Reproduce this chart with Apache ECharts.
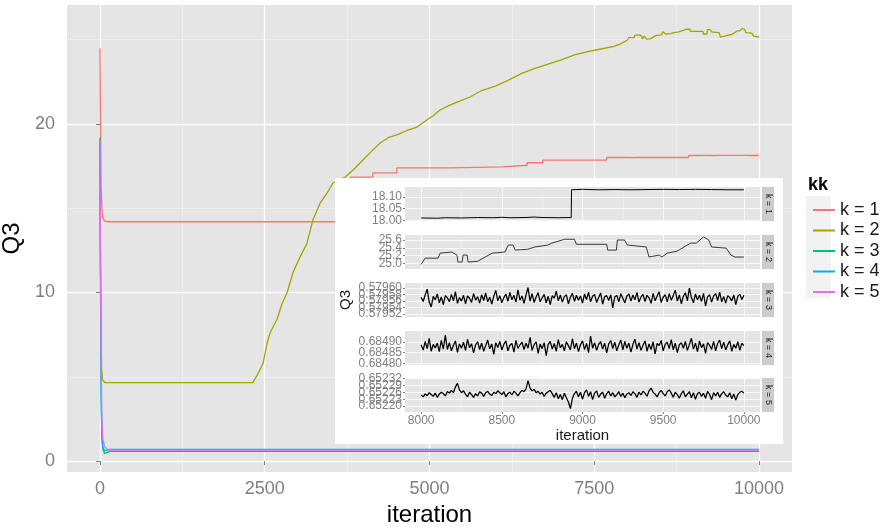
<!DOCTYPE html>
<html><head><meta charset="utf-8">
<script src="https://cdn.jsdelivr.net/npm/echarts@6/dist/echarts.min.js"></script>
<style>html,body{margin:0;padding:0;background:#fff}#c{width:882px;height:527px}</style>
</head><body><div id="c"></div>
<script>
// ---------------- data ----------------
const seriesNames = ['k = 1', 'k = 2', 'k = 3', 'k = 4', 'k = 5'];

const mainIterK1 = [0, 5, 10, 15, 20, 30, 45, 70, 120, 3800, 3800, 4140, 4140, 4505, 4505, 5310, 5310, 6115, 6115, 6480, 6480, 6720, 6720, 7690, 7690];
const mainQ3K1   = [24.5, 22.0, 19.5, 17.5, 16.0, 14.9, 14.4, 14.25, 14.2, 14.2, 16.85, 16.85, 17.1, 17.1, 17.4, 17.4, 17.45, 17.45, 17.55, 17.55, 17.7, 17.7, 17.85, 17.85, 18.01];

const mainIterK2 = [0, 8, 16, 25, 40, 80, 2320, 2400, 2475, 2530, 2580, 2685, 2760, 2840, 2930, 3035, 3140, 3230, 3340, 3445, 3535, 3720, 3850, 3990, 4100, 4250, 4380, 4505, 4650, 4810, 4960, 5060, 5160, 5300, 5420, 5615, 5800, 6000, 6200, 6400, 6600, 6800, 7000, 7200, 7400, 7600, 7800, 7900];
const mainQ3K2   = [18.5, 12, 8, 5.5, 4.8, 4.65, 4.65, 5.2, 5.8, 6.9, 7.6, 8.4, 9.3, 10.0, 11.2, 12.1, 12.9, 14.3, 15.3, 15.9, 16.5, 16.85, 17.3, 17.86, 18.3, 18.87, 19.2, 19.35, 19.6, 19.82, 20.24, 20.5, 20.83, 21.1, 21.3, 21.6, 22.0, 22.25, 22.6, 23.0, 23.3, 23.55, 23.8, 24.1, 24.3, 24.45, 24.6, 24.75];

const mainIterK345 = [0, 5, 10, 15, 20, 30, 45, 70, 100, 150, 7990];
const mainQ3K3 = [19.2, 14.0, 9.5, 6.0, 3.5, 1.4, 0.7, 0.45, 0.52, 0.5796, 0.579566];
const mainQ3K4 = [18.9, 13.5, 9.0, 5.5, 3.2, 1.3, 0.8, 0.62, 0.66, 0.6849, 0.684877];
const mainQ3K5 = [19.0, 15.0, 11.0, 7.5, 5.0, 2.4, 1.3, 0.85, 0.72, 0.6523, 0.652248];

const insetIterK1 = [8000, 8100, 8150, 8250, 8350, 8450, 8500, 8550, 8650, 8700, 8750, 8850, 8930, 8932, 9000, 9100, 9200, 9300, 9400, 9500, 9600, 9700, 9800, 9900, 10000];
const insetQ3K1   = [18.010, 18.009, 18.011, 18.010, 18.012, 18.011, 18.013, 18.011, 18.012, 18.014, 18.012, 18.011, 18.012, 18.131, 18.133, 18.131, 18.132, 18.131, 18.132, 18.133, 18.132, 18.133, 18.132, 18.131, 18.131];

const insetIterK2 = [8000, 8025, 8105, 8118, 8190, 8198, 8222, 8228, 8254, 8260, 8285, 8291, 8350, 8440, 8520, 8540, 8570, 8582, 8660, 8705, 8785, 8810, 8890, 8950, 8962, 9150, 9156, 9210, 9216, 9260, 9278, 9395, 9412, 9475, 9492, 9525, 9585, 9670, 9705, 9750, 9782, 9800, 9890, 9920, 9945, 10000];
const insetQ3K2   = [24.97, 25.13, 25.13, 25.26, 25.29, 25.34, 25.21, 25.03, 25.03, 25.21, 25.21, 25.03, 25.05, 25.26, 25.29, 25.47, 25.47, 25.34, 25.36, 25.42, 25.47, 25.52, 25.62, 25.62, 25.49, 25.49, 25.34, 25.34, 25.60, 25.60, 25.47, 25.42, 25.16, 25.21, 25.16, 25.26, 25.31, 25.52, 25.52, 25.68, 25.60, 25.42, 25.39, 25.21, 25.16, 25.16];

// thinned iterations 8000..10000 for the noisy traces
const thinIter = [];
for (let i = 0; i <= 160; i++) thinIter.push(8000 + i * 12.5);

const insetQ3K3 = [
0.579571,0.579558,0.579578,0.579596,0.579556,0.579541,0.579574,0.579563,0.579581,0.579554,
0.579572,0.579548,0.579576,0.579569,0.579557,0.579580,0.579560,0.579588,0.579552,0.579570,
0.579559,0.579577,0.579551,0.579575,0.579568,0.579555,0.579582,0.579562,0.579573,0.579553,
0.579579,0.579561,0.579584,0.579557,0.579571,0.579550,0.579574,0.579592,0.579560,0.579576,
0.579554,0.579570,0.579581,0.579558,0.579586,0.579563,0.579577,0.579556,0.579594,0.579562,
0.579575,0.579552,0.579578,0.579601,0.579559,0.579582,0.579555,0.579572,0.579585,0.579557,
0.579569,0.579580,0.579554,0.579574,0.579548,0.579576,0.579568,0.579590,0.579560,0.579578,
0.579556,0.579573,0.579579,0.579551,0.579571,0.579583,0.579558,0.579577,0.579562,0.579575,
0.579553,0.579581,0.579564,0.579587,0.579557,0.579574,0.579580,0.579555,0.579570,0.579584,
0.579550,0.579573,0.579576,0.579561,0.579579,0.579538,0.579572,0.579577,0.579557,0.579582,
0.579568,0.579554,0.579575,0.579581,0.579559,0.579578,0.579563,0.579586,0.579556,0.579572,
0.579580,0.579558,0.579577,0.579569,0.579552,0.579583,0.579560,0.579575,0.579588,0.579555,
0.579571,0.579579,0.579557,0.579582,0.579562,0.579576,0.579593,0.579559,0.579578,0.579551,
0.579574,0.579585,0.579560,0.579599,0.579570,0.579554,0.579581,0.579563,0.579577,0.579558,
0.579583,0.579544,0.579572,0.579579,0.579556,0.579575,0.579582,0.579561,0.579587,0.579557,
0.579573,0.579553,0.579576,0.579570,0.579560,0.579578,0.579548,0.579574,0.579580,0.579564,
0.579577];

const insetQ3K4 = [
0.684887,0.684862,0.684902,0.684869,0.684917,0.684857,0.684889,0.684872,0.684895,0.684855,
0.684907,0.684867,0.684932,0.684865,0.684897,0.684859,0.684885,0.684905,0.684852,0.684891,
0.684871,0.684899,0.684861,0.684912,0.684873,0.684892,0.684849,0.684887,0.684901,0.684865,
0.684895,0.684857,0.684883,0.684909,0.684868,0.684891,0.684842,0.684897,0.684874,0.684903,
0.684863,0.684889,0.684905,0.684859,0.684885,0.684893,0.684853,0.684907,0.684870,0.684887,
0.684899,0.684865,0.684895,0.684871,0.684922,0.684861,0.684887,0.684901,0.684847,0.684891,
0.684869,0.684897,0.684837,0.684889,0.684903,0.684867,0.684893,0.684857,0.684911,0.684873,
0.684889,0.684859,0.684901,0.684883,0.684863,0.684915,0.684869,0.684895,0.684855,0.684887,
0.684905,0.684865,0.684893,0.684851,0.684927,0.684871,0.684897,0.684861,0.684889,0.684901,
0.684867,0.684895,0.684849,0.684891,0.684907,0.684869,0.684899,0.684859,0.684887,0.684909,
0.684863,0.684903,0.684871,0.684895,0.684853,0.684889,0.684913,0.684867,0.684897,0.684861,
0.684885,0.684905,0.684857,0.684891,0.684865,0.684901,0.684845,0.684893,0.684883,0.684907,
0.684859,0.684889,0.684899,0.684869,0.684911,0.684863,0.684895,0.684851,0.684887,0.684897,
0.684871,0.684903,0.684861,0.684889,0.684917,0.684867,0.684895,0.684855,0.684905,0.684873,
0.684891,0.684847,0.684897,0.684885,0.684865,0.684903,0.684859,0.684893,0.684909,0.684869,
0.684899,0.684863,0.684887,0.684905,0.684857,0.684889,0.684871,0.684901,0.684861,0.684895,
0.684883];

const insetQ3K5 = [
0.652248,0.652240,0.652253,0.652245,0.652258,0.652250,0.652242,0.652256,0.652238,0.652252,
0.652260,0.652254,0.652244,0.652263,0.652256,0.652268,0.652258,0.652283,0.652298,0.652270,
0.652258,0.652266,0.652252,0.652240,0.652260,0.652250,0.652238,0.652254,0.652244,0.652262,
0.652256,0.652242,0.652258,0.652264,0.652252,0.652246,0.652260,0.652254,0.652266,0.652258,
0.652250,0.652262,0.652240,0.652254,0.652260,0.652248,0.652264,0.652256,0.652244,0.652258,
0.652268,0.652262,0.652274,0.652310,0.652278,0.652266,0.652272,0.652258,0.652264,0.652252,
0.652260,0.652242,0.652256,0.652262,0.652268,0.652254,0.652238,0.652258,0.652232,0.652250,
0.652228,0.652256,0.652236,0.652218,0.652190,0.652234,0.652254,0.652264,0.652240,0.652260,
0.652230,0.652258,0.652270,0.652242,0.652262,0.652228,0.652256,0.652266,0.652238,0.652252,
0.652260,0.652234,0.652254,0.652264,0.652244,0.652258,0.652240,0.652250,0.652262,0.652242,
0.652256,0.652236,0.652252,0.652258,0.652246,0.652262,0.652254,0.652238,0.652260,0.652248,
0.652264,0.652256,0.652242,0.652266,0.652278,0.652260,0.652252,0.652240,0.652258,0.652268,
0.652254,0.652244,0.652262,0.652270,0.652256,0.652238,0.652260,0.652250,0.652234,0.652254,
0.652266,0.652240,0.652252,0.652262,0.652236,0.652258,0.652230,0.652254,0.652260,0.652242,
0.652256,0.652234,0.652264,0.652250,0.652228,0.652258,0.652244,0.652260,0.652238,0.652254,
0.652262,0.652248,0.652240,0.652258,0.652232,0.652252,0.652226,0.652250,0.652260,0.652264,
0.652256];

// tick labels
const mainXTicks = [0, 2500, 5000, 7500, 10000];
const mainXMinor = [1250, 3750, 6250, 8750];
const mainYTicks = [0, 10, 20];
const mainYMinor = [5, 15, 25];
const insetXTicks = [8000, 8500, 9000, 9500, 10000];
const insetXMinor = [8250, 8750, 9250, 9750];
const insetYTicksK1 = [18.00, 18.05, 18.10];
const insetYTicksK2 = [25.0, 25.2, 25.4, 25.6];
const insetYTicksK3 = [0.57952, 0.57954, 0.57956, 0.57958, 0.57960];
const insetYTicksK4 = [0.68480, 0.68485, 0.68490];
const insetYTicksK5 = [0.65220, 0.65223, 0.65226, 0.65229, 0.65232];

// ---------------- layout / style ----------------
const FONT = '"Liberation Sans", Arial, sans-serif';
const GREY = '#7F7F7F';
const PANEL = '#E5E5E5';
const colors = ['#F8766D', '#A3A500', '#00BF7D', '#00B0F6', '#E76BF3'];

const insetTops = [187, 235, 283, 331, 378];
const insetH = 34, insetLeft = 405, insetW = 355;
const insetYMin = [17.997, 24.85, 0.579510, 0.684793, 0.652175];
const insetYMax = [18.143, 25.73, 0.579615, 0.684951, 0.652321];
const insetYTicks = [insetYTicksK1, insetYTicksK2, insetYTicksK3, insetYTicksK4, insetYTicksK5];
const insetYDec = [2, 1, 5, 5, 5];

function zip(xs, ys) { return xs.map((x, i) => [x, ys[i]]); }

const mainData = [
  zip(mainIterK1.concat(insetIterK1), mainQ3K1.concat(insetQ3K1)),
  zip(mainIterK2.concat(insetIterK2), mainQ3K2.concat(insetQ3K2)),
  zip(mainIterK345.concat(thinIter), mainQ3K3.concat(insetQ3K3)),
  zip(mainIterK345.concat(thinIter), mainQ3K4.concat(insetQ3K4)),
  zip(mainIterK345.concat(thinIter), mainQ3K5.concat(insetQ3K5))
];
const insetData = [
  zip(insetIterK1, insetQ3K1),
  zip(insetIterK2, insetQ3K2),
  zip(thinIter, insetQ3K3),
  zip(thinIter, insetQ3K4),
  zip(thinIter, insetQ3K5)
];

const plain = v => String(v);

const grids = [{ left: 67, top: 5, width: 725, height: 467, show: true, backgroundColor: PANEL, borderWidth: 0, z: 0, outerBoundsMode: 'none', containLabel: false }];
insetTops.forEach(t => grids.push({ left: insetLeft, top: t, width: insetW, height: insetH, show: true, backgroundColor: PANEL, borderWidth: 0, z: 11, outerBoundsMode: 'none', containLabel: false }));

const xAxes = [
  { type: 'value', gridIndex: 0, min: -500, max: 10500, z: 1,
    axisLine: { show: false },
    axisTick: { show: true, length: 4, lineStyle: { color: GREY }, customValues: mainXTicks },
    axisLabel: { customValues: mainXTicks, color: GREY, fontSize: 18, fontFamily: FONT, margin: 8, formatter: plain },
    splitLine: { show: true, lineStyle: { color: '#FFFFFF', width: 1.3 }, customValues: mainXTicks },
    name: 'iteration', nameLocation: 'middle', nameGap: 30,
    nameTextStyle: { fontSize: 24, color: '#000', fontFamily: FONT } },
  { type: 'value', gridIndex: 0, min: -500, max: 10500, z: 0,
    axisLine: { show: false }, axisTick: { show: false, customValues: mainXMinor }, axisLabel: { show: false },
    splitLine: { show: true, lineStyle: { color: '#F2F2F2', width: 0.7 }, customValues: mainXMinor } }
];
const yAxes = [
  { type: 'value', gridIndex: 0, min: -0.65, max: 27.06, z: 1,
    axisLine: { show: false },
    axisTick: { show: true, length: 4, lineStyle: { color: GREY }, customValues: mainYTicks },
    axisLabel: { customValues: mainYTicks, color: GREY, fontSize: 18, fontFamily: FONT, margin: 12, formatter: plain },
    splitLine: { show: true, lineStyle: { color: '#FFFFFF', width: 1.3 }, customValues: mainYTicks },
    name: 'Q3', nameLocation: 'middle', nameGap: 33, nameRotate: 90,
    nameTextStyle: { fontSize: 24, color: '#000', fontFamily: FONT } },
  { type: 'value', gridIndex: 0, min: -0.65, max: 27.06, z: 0, position: 'left',
    axisLine: { show: false }, axisTick: { show: false, customValues: mainYMinor }, axisLabel: { show: false },
    splitLine: { show: true, lineStyle: { color: '#F2F2F2', width: 0.7 }, customValues: mainYMinor } }
];

for (let i = 0; i < 5; i++) {
  const last = i === 4;
  xAxes[2 + i] = {
    type: 'value', gridIndex: 1 + i, min: 7900, max: 10100, z: 12,
    axisLine: { show: false },
    axisTick: { show: last, length: 2, lineStyle: { color: GREY }, customValues: insetXTicks },
    axisLabel: { show: last, customValues: insetXTicks, color: GREY, fontSize: 12, fontFamily: FONT, margin: 3,
                 formatter: plain, showMinLabel: true, showMaxLabel: true },
    splitLine: { show: true, lineStyle: { color: '#FFFFFF', width: 0.8 }, customValues: insetXTicks },
    name: last ? 'iteration' : '', nameLocation: 'middle', nameGap: 15,
    nameTextStyle: { fontSize: 15, color: '#1A1A1A', fontFamily: FONT }
  };
  xAxes[7 + i] = {
    type: 'value', gridIndex: 1 + i, min: 7900, max: 10100, z: 12,
    axisLine: { show: false }, axisTick: { show: false, customValues: insetXMinor }, axisLabel: { show: false },
    splitLine: { show: true, lineStyle: { color: '#F2F2F2', width: 0.5 }, customValues: insetXMinor }
  };
  const dec = insetYDec[i];
  const ticks = insetYTicks[i];
  const evenTicks = ticks.filter((v, j) => j % 2 === 0);
  const oddTicks = ticks.filter((v, j) => j % 2 === 1);
  const lab = (vals) => ({ customValues: vals, color: GREY, fontSize: 12, fontFamily: FONT, margin: 3,
                 showMinLabel: true, showMaxLabel: true, hideOverlap: false,
                 formatter: v => Number(v).toFixed(dec) });
  // labels are split across two stacked axes so that crowded labels all remain visible
  yAxes[2 + i] = {
    type: 'value', gridIndex: 1 + i, min: insetYMin[i], max: insetYMax[i], z: 12, position: 'left',
    axisLine: { show: false },
    axisTick: { show: true, length: 2, lineStyle: { color: GREY }, customValues: ticks },
    axisLabel: lab(evenTicks),
    splitLine: { show: true, lineStyle: { color: '#FFFFFF', width: 0.8 }, customValues: ticks },
    name: i === 2 ? 'Q3' : '', nameLocation: 'middle', nameGap: 52, nameRotate: 90,
    nameTextStyle: { fontSize: 15, color: '#1A1A1A', fontFamily: FONT }
  };
  yAxes[7 + i] = {
    type: 'value', gridIndex: 1 + i, min: insetYMin[i], max: insetYMax[i], z: 12, position: 'left', offset: 0,
    axisLine: { show: false },
    axisTick: { show: false, customValues: oddTicks },
    axisLabel: lab(oddTicks),
    splitLine: { show: false }
  };
}

const series = [];
for (let i = 0; i < 5; i++) {
  series.push({ type: 'line', name: seriesNames[i], xAxisIndex: 0, yAxisIndex: 0, data: mainData[i],
    symbol: 'none', z: 2, lineStyle: { width: 1.3, color: colors[i] }, itemStyle: { color: colors[i] } });
}
for (let i = 0; i < 5; i++) {
  series.push({ type: 'line', name: 'trace ' + seriesNames[i], xAxisIndex: 2 + i, yAxisIndex: 2 + i, data: insetData[i],
    symbol: 'none', z: 13, lineStyle: { width: i < 2 ? 1 : 1.25, color: i === 1 ? '#3A3A3A' : '#000000' },
    itemStyle: { color: '#000' } });
}

const graphics = [
  { type: 'rect', shape: { x: 335, y: 178, width: 448, height: 266 }, style: { fill: '#FFFFFF' }, z: 10, silent: true },
  { type: 'rect', shape: { x: 806, y: 196, width: 25, height: 102 }, style: { fill: '#F2F2F2' }, z: 5, silent: true },
  { type: 'text', x: 808, y: 185, style: { text: 'kk', fontSize: 18, fontWeight: 'bold', fill: '#000', fontFamily: FONT, verticalAlign: 'middle' }, z: 5 }
];
insetTops.forEach((t, i) => {
  graphics.push({ type: 'rect', shape: { x: 762, y: t, width: 12, height: insetH }, style: { fill: '#CCCCCC' }, z: 11, silent: true });
  graphics.push({ type: 'text', x: 768, y: t + insetH / 2, rotation: -Math.PI / 2,
    style: { text: seriesNames[i], fontSize: 9, fill: '#1A1A1A', fontFamily: FONT, align: 'center', verticalAlign: 'middle' }, z: 12 });
});

const chart = echarts.init(document.getElementById('c'), null, { renderer: 'canvas' });
chart.setOption({
  animation: false,
  backgroundColor: '#FFFFFF',
  grid: grids,
  xAxis: xAxes,
  yAxis: yAxes,
  legend: { data: seriesNames, orient: 'vertical', left: 808, top: 196, icon: 'rect', itemWidth: 22, itemHeight: 2, itemGap: 2.5,
    textStyle: { fontSize: 18, color: '#1A1A1A', fontFamily: FONT }, z: 6 },
  graphic: { elements: graphics },
  series: series
});
</script>
</body></html>
